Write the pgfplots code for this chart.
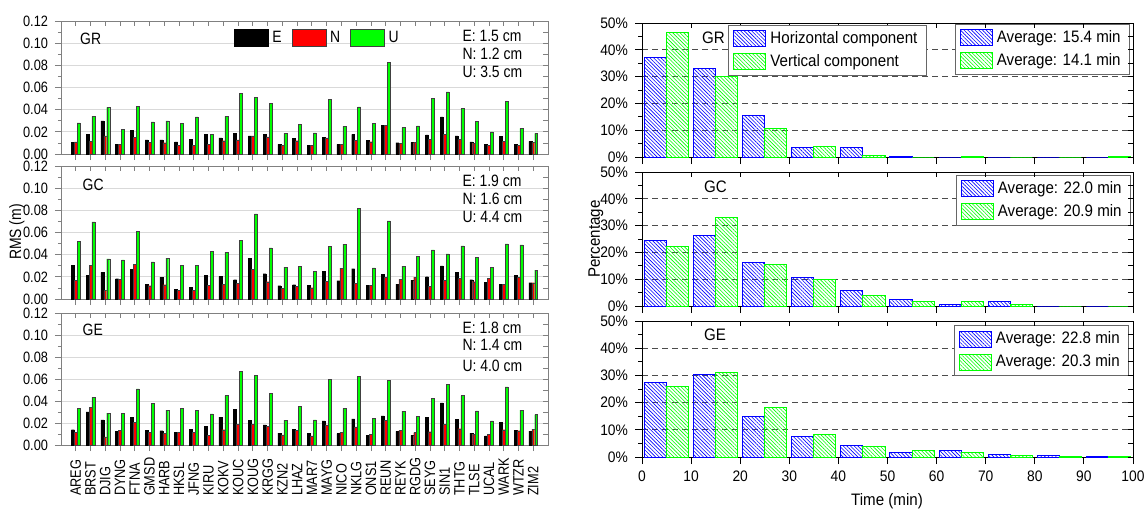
\documentclass[border=0pt]{standalone}
\usepackage{fontspec}
\setmainfont[FakeStretch=0.85]{Liberation Sans}
\newfontfamily\rfam[FakeStretch=0.91]{Liberation Sans}
\usepackage{pgfplots}
\pgfplotsset{compat=1.18}
\usepackage{pgfplotstable}
\usetikzlibrary{patterns.meta}

\newcommand{\tf}{\fontsize{7.5}{8}\selectfont}
\newcommand{\lf}{\fontsize{8.2}{9}\selectfont}
\newcommand{\rtf}{\rfam\fontsize{7.6}{8}\selectfont}
\newcommand{\rlf}{\rfam\fontsize{8.3}{9}\selectfont}

\pgfplotstableread{
x E N U
0 0.0108 0.0110 0.0280
1 0.0175 0.0114 0.0340
2 0.0300 0.0163 0.0420
3 0.0090 0.0084 0.0223
4 0.0214 0.0150 0.0430
5 0.0127 0.0108 0.0290
6 0.0127 0.0102 0.0300
7 0.0110 0.0078 0.0274
8 0.0133 0.0078 0.0334
9 0.0180 0.0087 0.0180
10 0.0145 0.0120 0.0340
11 0.0187 0.0127 0.0548
12 0.0163 0.0163 0.0512
13 0.0178 0.0154 0.0460
14 0.0087 0.0075 0.0187
15 0.0142 0.0120 0.0270
16 0.0078 0.0078 0.0190
17 0.0150 0.0145 0.0494
18 0.0087 0.0087 0.0250
19 0.0178 0.0123 0.0425
20 0.0123 0.0111 0.0277
21 0.0260 0.0260 0.0830
22 0.0102 0.0093 0.0238
23 0.0105 0.0108 0.0253
24 0.0172 0.0130 0.0500
25 0.0334 0.0180 0.0560
26 0.0163 0.0133 0.0410
27 0.0110 0.0099 0.0295
28 0.0084 0.0078 0.0200
29 0.0157 0.0117 0.0476
30 0.0087 0.0078 0.0232
31 0.0114 0.0105 0.0187
}\gr

\pgfplotstableread{
x E N U
0 0.0306 0.0168 0.0520
1 0.0213 0.0306 0.0696
2 0.0240 0.0075 0.0363
3 0.0183 0.0177 0.0354
4 0.0267 0.0312 0.0610
5 0.0132 0.0120 0.0336
6 0.0198 0.0129 0.0369
7 0.0087 0.0075 0.0306
8 0.0105 0.0081 0.0303
9 0.0213 0.0126 0.0432
10 0.0204 0.0132 0.0420
11 0.0174 0.0141 0.0528
12 0.0369 0.0270 0.0768
13 0.0228 0.0156 0.0462
14 0.0120 0.0096 0.0288
15 0.0129 0.0117 0.0297
16 0.0123 0.0102 0.0249
17 0.0249 0.0159 0.0474
18 0.0165 0.0279 0.0495
19 0.0273 0.0144 0.0819
20 0.0126 0.0126 0.0282
21 0.0225 0.0195 0.0705
22 0.0135 0.0177 0.0297
23 0.0171 0.0198 0.0387
24 0.0201 0.0114 0.0444
25 0.0300 0.0171 0.0408
26 0.0243 0.0186 0.0480
27 0.0174 0.0156 0.0375
28 0.0153 0.0189 0.0285
29 0.0132 0.0132 0.0498
30 0.0213 0.0198 0.0489
31 0.0147 0.0147 0.0261
}\gc

\pgfplotstableread{
x E N U
0 0.0139 0.0112 0.0335
1 0.0301 0.0344 0.0434
2 0.0229 0.0075 0.0290
3 0.0124 0.0133 0.0286
4 0.0250 0.0208 0.0510
5 0.0133 0.0118 0.0377
6 0.0130 0.0103 0.0317
7 0.0112 0.0118 0.0335
8 0.0145 0.0118 0.0317
9 0.0172 0.0090 0.0283
10 0.0253 0.0139 0.0449
11 0.0326 0.0190 0.0669
12 0.0223 0.0190 0.0633
13 0.0184 0.0169 0.0467
14 0.0109 0.0093 0.0226
15 0.0145 0.0133 0.0350
16 0.0103 0.0084 0.0229
17 0.0220 0.0184 0.0597
18 0.0103 0.0118 0.0332
19 0.0238 0.0166 0.0627
20 0.0090 0.0097 0.0244
21 0.0265 0.0223 0.0585
22 0.0124 0.0136 0.0308
23 0.0087 0.0112 0.0259
24 0.0253 0.0121 0.0422
25 0.0383 0.0190 0.0549
26 0.0235 0.0148 0.0449
27 0.0109 0.0097 0.0310
28 0.0084 0.0097 0.0220
29 0.0205 0.0139 0.0528
30 0.0133 0.0130 0.0317
31 0.0127 0.0145 0.0277
}\ge

\pgfplotstableread{
t H V
0 37.1 46.3
10 33.0 30.2
20 15.3 10.8
30 3.5 3.9
40 3.5 0.7
50 0.3 0.0
60 0.0 0.3
70 0.0 0.0
80 0.0 0.0
90 0.0 0.3
}\rgr

\pgfplotstableread{
t H V
0 24.4 22.2
10 26.3 33.1
20 16.3 15.5
30 10.7 9.9
40 5.7 4.0
50 2.5 1.6
60 0.6 1.6
70 1.6 0.6
80 0.0 0.0
90 0.0 0.0
}\rgc

\pgfplotstableread{
t H V
0 27.3 25.9
10 30.5 30.9
20 15.0 18.1
30 7.7 8.1
40 4.4 4.0
50 1.8 2.3
60 2.3 1.5
70 0.9 0.7
80 0.4 0.35
90 0.35 0.3
}\rge

\pgfplotsset{
  lbase/.style={scale only axis, width=243.5pt, xmin=-1, xmax=32, ymin=0, ymax=0.12, anchor=south west},
  lmain/.style={lbase, axis line style={black!50}, tick style={black!50, line width=0.4pt},
    tick align=outside, xtick pos=left, ytick pos=left,
    xtick={0,...,31}, xticklabels={},
    ytick={0,0.02,0.04,0.06,0.08,0.10,0.12},
    yticklabels={0.00,0.02,0.04,0.06,0.08,0.10,0.12},
    minor ytick={0.01,0.03,0.05,0.07,0.09,0.11},
    major tick length=3pt, minor tick length=1.5pt,
    ymajorgrids, major grid style={black!15, line width=0.4pt},
    yticklabel style={font=\tf},
    ybar, bar width=0.2,
    legend image code/.code={\draw[#1] (0pt,-4.25pt) rectangle (17pt,4.25pt);}},
  lover/.style={lbase, axis line style={draw=none}, tick style={black!50, line width=0.4pt},
    tick align=inside, xtick pos=right, ytick pos=right,
    xtick={0,...,31}, xticklabels={},
    ytick={0,0.01,0.02,0.03,0.04,0.05,0.06,0.07,0.08,0.09,0.10,0.11,0.12}, yticklabels={},
    major tick length=2.5pt},
  Ebar/.style={fill=black, draw=black, line width=0.2pt, bar shift=-0.2},
  Nbar/.style={fill=red, draw=black!75, line width=0.2pt, bar shift=0},
  Ubar/.style={fill=green, draw=black!75, line width=0.2pt, bar shift=0.2},
  rleg/.style={legend image code/.code={\draw[##1] (0pt,-4pt) rectangle (16pt,4pt);},
    legend style={anchor=north east, draw=black!60, fill=white, font=\rlf,
      inner xsep=2.5pt, inner ysep=1pt, row sep=0pt}, legend cell align=left},
  rbase/.style={scale only axis, width=245.5pt, xmin=0, xmax=100, ymin=0, ymax=50, anchor=south west},
  rmain/.style={rbase, axis line style={black, line width=0.5pt}, tick style={black, line width=0.5pt},
    tick align=outside, xtick pos=left, ytick pos=left,
    xtick={0,10,...,100}, xticklabels={},
    ytick={0,10,20,30,40,50}, yticklabels={0\%,10\%,20\%,30\%,40\%,50\%},
    minor ytick={5,15,25,35,45},
    major tick length=3.5pt, minor tick length=1.8pt,
    ymajorgrids, major grid style={black!70, densely dashed, line width=0.4pt},
    yticklabel style={font=\rtf}, xticklabel style={font=\rtf},
    ybar, bar width=4.5, rleg},
  rover/.style={rbase, rleg, axis line style={draw=none}, tick style={black, line width=0.5pt},
    tick align=inside, xtick pos=right, ytick pos=right,
    xtick={0,10,...,100}, xticklabels={},
    ytick={0,5,10,15,20,25,30,35,40,45,50}, yticklabels={},
    major tick length=2.5pt},
  Hbar/.style={draw=blue, line width=0.5pt, pattern={Lines[angle=-45,distance=1.3pt,line width=0.3pt]}, pattern color=blue, bar shift=0},
  Vbar/.style={draw=green, line width=0.5pt, pattern={Lines[angle=-45,distance=1.3pt,line width=0.3pt]}, pattern color=green, bar shift=0},
}

\begin{document}
\begin{tikzpicture}[x=1pt,y=1pt]
\useasboundingbox (0,0) rectangle (572.5,255.5);

% ---------------- left: GR ----------------
\begin{axis}[lmain, height=66.5pt, at={(30.5pt,178.5pt)},
  legend columns=3,
  legend style={at={(0.342,0.872)}, anchor=west, draw=none, fill=none, font=\lf,
    /tikz/every even column/.append style={column sep=3pt}}]
\addplot[Ebar] table[x=x,y=E]{\gr};
\addplot[Nbar] table[x=x,y=N]{\gr};
\addplot[Ubar] table[x=x,y=U]{\gr};
\legend{E,N,U}
\node[anchor=west, font=\lf] at (rel axis cs:0.025,0.865) {GR};
\node[anchor=west, font=\lf] at (rel axis cs:0.81,0.89) {E: 1.5 cm};
\node[anchor=west, font=\lf] at (rel axis cs:0.81,0.755) {N: 1.2 cm};
\node[anchor=west, font=\lf] at (rel axis cs:0.81,0.615) {U: 3.5 cm};
\end{axis}
\begin{axis}[lover, height=66.5pt, at={(30.5pt,178.5pt)}]
\end{axis}

% ---------------- left: GC ----------------
\begin{axis}[lmain, height=66.5pt, at={(30.5pt,106pt)}]
\addplot[Ebar] table[x=x,y=E]{\gc};
\addplot[Nbar] table[x=x,y=N]{\gc};
\addplot[Ubar] table[x=x,y=U]{\gc};
\node[anchor=west, font=\lf] at (rel axis cs:0.03,0.86) {GC};
\node[anchor=west, font=\lf] at (rel axis cs:0.81,0.89) {E: 1.9 cm};
\node[anchor=west, font=\lf] at (rel axis cs:0.81,0.755) {N: 1.6 cm};
\node[anchor=west, font=\lf] at (rel axis cs:0.81,0.615) {U: 4.4 cm};
\end{axis}
\begin{axis}[lover, height=66.5pt, at={(30.5pt,106pt)}]
\end{axis}

% ---------------- left: GE ----------------
\begin{axis}[lmain, height=66pt, at={(30.5pt,33pt)},
  xticklabels={AREG,BRST,DJIG,DYNG,FTNA,GMSD,HARB,HKSL,JFNG,KIRU,KOKV,KOUC,KOUG,KRGG,KZN2,LHAZ,MAR7,MAYG,NICO,NKLG,ONS1,REUN,REYK,RGDG,SEYG,SIN1,THTG,TLSE,UCAL,WARK,WTZR,ZIM2},
  xticklabel style={rotate=90, anchor=west, font=\tf}, xticklabel shift=26pt]
\addplot[Ebar] table[x=x,y=E]{\ge};
\addplot[Nbar] table[x=x,y=N]{\ge};
\addplot[Ubar] table[x=x,y=U]{\ge};
\node[anchor=west, font=\lf] at (rel axis cs:0.03,0.87) {GE};
\node[anchor=west, font=\lf] at (rel axis cs:0.81,0.89) {E: 1.8 cm};
\node[anchor=west, font=\lf] at (rel axis cs:0.81,0.755) {N: 1.4 cm};
\node[anchor=west, font=\lf] at (rel axis cs:0.81,0.60) {U: 4.0 cm};
\end{axis}
\begin{axis}[lover, height=66pt, at={(30.5pt,33pt)}]
\end{axis}

% ---------------- right: GR ----------------
\begin{axis}[rmain, height=67pt, at={(321pt,177pt)},
  legend style={at={(0.994,0.993)}}]
\addplot[Hbar] table[x expr=\thisrow{t}+2.75, y=H]{\rgr};
\addplot[Vbar] table[x expr=\thisrow{t}+7.25, y=V]{\rgr};
\legend{Average: 15.4 min, Average: 14.1 min}
\node[anchor=west, font=\rlf] at (rel axis cs:0.108,0.893) {GR};
\end{axis}
\begin{axis}[rover, height=67pt, at={(321pt,177pt)},
  legend style={at={(0.58,0.985)}}]
\addlegendimage{Hbar}
\addlegendentry{Horizontal component}
\addlegendimage{Vbar}
\addlegendentry{Vertical component}
\end{axis}

% ---------------- right: GC ----------------
\begin{axis}[rmain, height=67pt, at={(321pt,102.5pt)},
  legend style={at={(0.996,0.978)}}]
\addplot[Hbar] table[x expr=\thisrow{t}+2.75, y=H]{\rgc};
\addplot[Vbar] table[x expr=\thisrow{t}+7.25, y=V]{\rgc};
\legend{Average: 22.0 min, Average: 20.9 min}
\node[anchor=west, font=\rlf] at (rel axis cs:0.112,0.888) {GC};
\end{axis}
\begin{axis}[rover, height=67pt, at={(321pt,102.5pt)}]
\end{axis}

% ---------------- right: GE ----------------
\begin{axis}[rmain, height=68pt, at={(321pt,27pt)},
  xticklabels={0,10,20,30,40,50,60,70,80,90,100},
  legend style={at={(0.992,0.97)}}]
\addplot[Hbar] table[x expr=\thisrow{t}+2.75, y=H]{\rge};
\addplot[Vbar] table[x expr=\thisrow{t}+7.25, y=V]{\rge};
\legend{Average: 22.8 min, Average: 20.3 min}
\node[anchor=west, font=\rlf] at (rel axis cs:0.112,0.897) {GE};
\end{axis}
\begin{axis}[rover, height=68pt, at={(321pt,27pt)}]
\end{axis}

\node[rotate=90, font=\lf] at (8.5pt,139.5pt) {RMS (m)};
\node[rotate=90, font=\rlf] at (298pt,136pt) {Percentage};
\node[font=\rlf] at (443.5pt,5pt) {Time (min)};
\end{tikzpicture}
\end{document}
